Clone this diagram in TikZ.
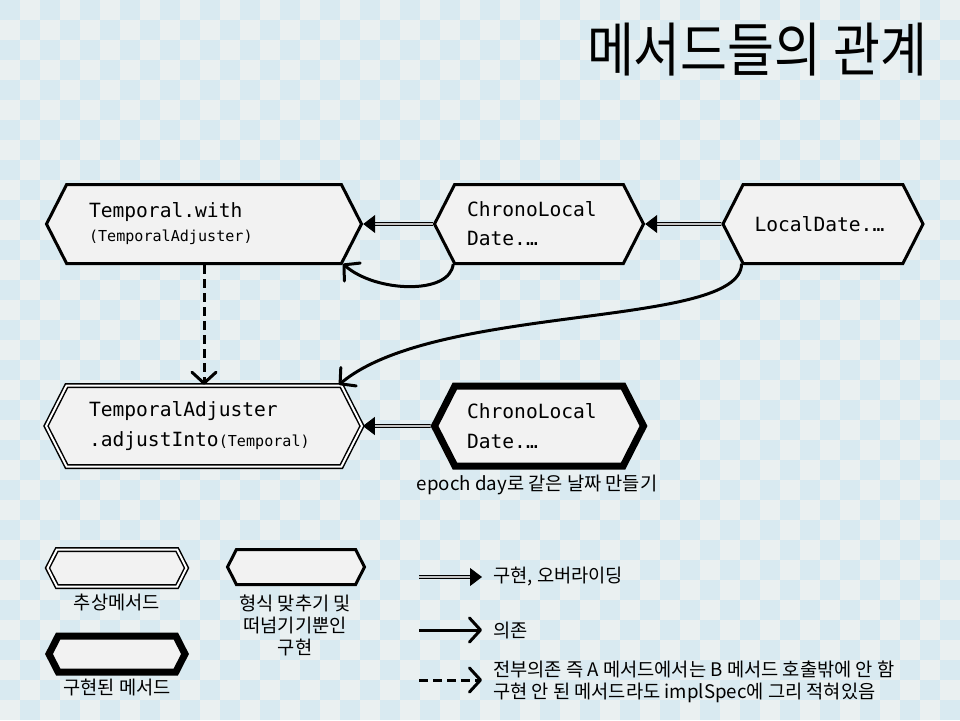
\documentclass[tikz,border=0pt]{standalone}
\usepackage{fontspec}
\setmainfont{Noto Sans CJK KR}
\newfontfamily\codefont{DejaVu Sans Mono}
\usetikzlibrary{shapes.symbols,arrows.meta}
\definecolor{bgblue}{HTML}{D9EAF1}
\definecolor{bglight}{HTML}{EAF0F1}
\definecolor{boxgray}{HTML}{F2F2F2}
\definecolor{innergray}{HTML}{C4C4C4}
\newcommand{\argtext}[1]{{\fontsize{15.1}{24}\selectfont #1}}
\tikzset{
  meth/.style={shape=signal, signal to=west and east, signal pointer angle=126,
    draw, fill=boxgray, line width=3pt, inner sep=0pt, align=left,
    font=\codefont\fontsize{19.6}{29}\selectfont},
  absmeth/.style={meth, line width=1.5pt, double=white, double distance=2pt},
  implmeth/.style={meth, line width=7pt},
  impl/.style={line width=1pt, double=innergray, double distance=1.6pt,
    -{Triangle[length=12pt,width=18pt]}},
  dep/.style={line width=3pt, -{Straight Barb[length=11pt,width=24pt,round]}},
  alldep/.style={dep, dash pattern=on 9pt off 5pt},
  lbl/.style={font=\fontsize{18.7}{22}\selectfont, align=center, inner sep=0pt}
}
\begin{document}
\begin{tikzpicture}[x=1pt,y=-1pt]
\useasboundingbox (0,0) rectangle (960,720);
% background
\fill[bglight] (0,0) rectangle (960,720);
\foreach \i in {0,2,...,46}
  \foreach \j in {0,2,...,34} {
    \fill[bgblue] (\i*20,\j*20) rectangle ++(20,20);
    \fill[bgblue] (\i*20+20,\j*20+20) rectangle ++(20,20);
  }
\node[font=\fontsize{51}{54}\selectfont, inner sep=0pt, yscale=1.15] (title) at (757,50) {메서드들의 관계};
% methods
\node[meth, minimum width=315pt, minimum height=79pt, text width=230pt] (twith) at (204,224) {Temporal.with\\[-5pt]\argtext{(TemporalAdjuster)}};
\node[meth, minimum width=209pt, minimum height=79pt, text width=144pt] (chrono) at (539,224) {ChronoLocal\\Date.…};
\node[meth, minimum width=200pt, minimum height=79pt, text width=137pt] (ldate) at (823,224) {LocalDate.…};
\node[absmeth, minimum width=316pt, minimum height=81pt, text width=230pt] (adjust) at (204,426) {TemporalAdjuster\\[1pt].adjustInto\argtext{(Temporal)}};
\node[implmeth, minimum width=209pt, minimum height=80pt, text width=144pt] (chrono2) at (539,426) {ChronoLocal\\[1pt]Date.…};
\node[lbl] (epoch) at (537,485) {epoch day로 같은 날짜 만들기};
\draw[impl] (chrono) -- (twith);
\draw[impl] (ldate) -- (chrono);
\draw[impl] (chrono2) -- (adjust);
\draw[alldep] (twith.south) -- (adjust.north);
\draw[dep] (chrono.205) .. controls +(-3,31) and +(33,29) .. (twith.-16);
\draw[dep] (ldate.206) .. controls +(0,65) and +(98,-82) .. (adjust.17);
% legend
\node[absmeth, minimum width=139pt, minimum height=37pt] (legabs) at (117,568) {};
\node[lbl] (legabstxt) at (117,602) {추상메서드};
\node[meth, minimum width=137pt, minimum height=35pt] (legplain) at (296,567) {};
\node[lbl] (legplaintxt) at (295,625) {형식 맞추기 및\\떠넘기기뿐인\\구현};
\node[implmeth, minimum width=136pt, minimum height=36pt] (legimpl) at (117,654) {};
\node[lbl] (legimpltxt) at (117,687) {구현된 메서드};
\coordinate (i1) at (419,577);
\coordinate (i2) at (482,577);
\coordinate (d1) at (419,630);
\coordinate (d2) at (482,630);
\coordinate (a1) at (419,680);
\coordinate (a2) at (482,680);
\draw[impl] (i1) -- (i2);
\draw[dep] (d1) -- (d2);
\draw[alldep] (a1) -- (a2);
\node[lbl, anchor=west] (impltxt) at (493,577) {구현, 오버라이딩};
\node[lbl, anchor=west] (deptxt) at (493,630) {의존};
\node[lbl, anchor=west, align=left] (alldeptxt) at (493,682) {전부의존 즉 A 메서드에서는 B 메서드 호출밖에 안 함\\구현 안 된 메서드라도 implSpec에 그리 적혀있음};
\end{tikzpicture}
\end{document}
